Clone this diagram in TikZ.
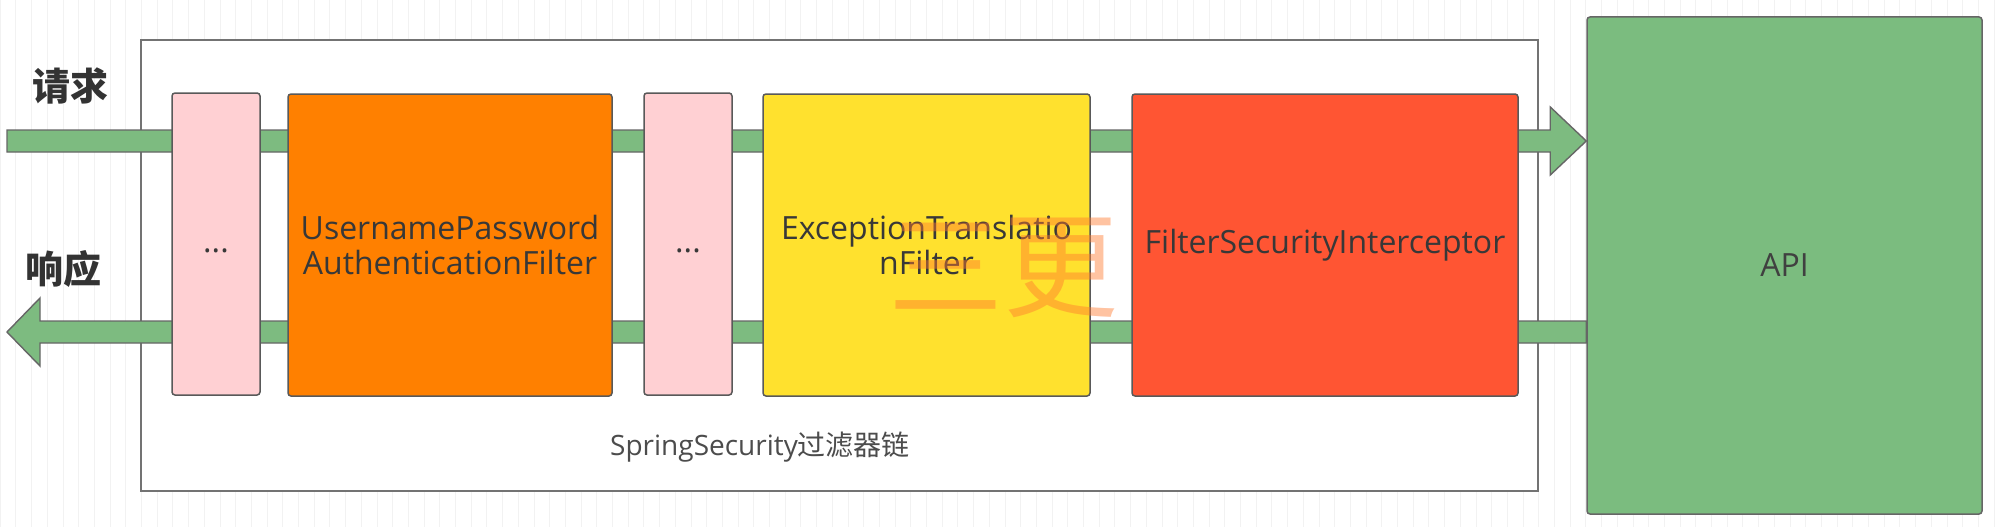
\documentclass[tikz,border=0pt]{standalone}
\usepackage{fontspec}
\setmainfont{Open Sans}
\newfontfamily\cjk{Noto Sans CJK SC}
\usetikzlibrary{calc}

\definecolor{bandgreen}{HTML}{7DBB80}
\definecolor{apigreen}{HTML}{7BBC7F}
\definecolor{pinkfill}{HTML}{FFD0D3}
\definecolor{orangefill}{HTML}{FF8000}
\definecolor{yellowfill}{HTML}{FFE12E}
\definecolor{redfill}{HTML}{FF5533}
\definecolor{markcolor}{HTML}{FF7A30}

\begin{document}
\begin{tikzpicture}[x=1pt, y=-1pt,
    gridline/.style={black!5, line width=0.6pt},
    filter/.style={draw=black!65, line width=1.5pt, rounded corners=3pt,
        minimum height=302pt, inner sep=0pt, align=center, text=black!78,
        font=\fontsize{32}{35}\selectfont},
    band/.style={draw=black!60, line width=1.4pt, fill=bandgreen, line join=miter}]
			%%%%% START %%%%%
			
			\useasboundingbox (0, 0) rectangle (1999, 527);
			\fill[white] (0, 0) rectangle (1999, 527);
			\draw[gridline] (0, 0) grid[step=15.7] (1999, 527);
			
			\node[draw=black!55, line width=1.6pt, fill=white, minimum width=1397pt, minimum height=451pt] (chain) at (839.5, 265.5) {};
			\node[text=black!70, font=\fontsize{28}{30}\selectfont] (chainlabel) at (760, 447) {SpringSecurity{\cjk 过滤器链}};
			
			\node[draw=black!60, line width=1.5pt, rounded corners=3pt, fill=apigreen, minimum width=395pt, minimum height=497pt, text=black!75, font=\fontsize{32}{35}\selectfont] (api) at (1784.5, 265.5) {API};
			
			\coordinate (reqin) at (7, 141);
			\coordinate (respout) at (7, 332);
			
			\draw[band] ($(reqin)+(0,-11)$) -- ($(api.west |- reqin)+(-36,-11)$) -- ++(0,-23) -- (api.west |- reqin) -- ($(api.west |- reqin)+(-36,34)$) -- ++(0,-23) -- ($(reqin)+(0,11)$) -- cycle;
			\draw[band] ($(api.west |- respout)+(0,-11)$) -- ($(respout)+(33,-11)$) -- ++(0,-23) -- (respout) -- ($(respout)+(33,34)$) -- ++(0,-23) -- ($(api.west |- respout)+(0,11)$) -- cycle;
			
			\node[filter, fill=pinkfill, minimum width=88pt] (dotsa) at (216, 244) {\smash{\raisebox{-8pt}{...}}};
			\node[filter, fill=orangefill, minimum width=324pt] (upaf) at (450, 245) {UsernamePassword\\AuthenticationFilter};
			\node[filter, fill=pinkfill, minimum width=88pt] (dotsb) at (688, 244) {\smash{\raisebox{-8pt}{...}}};
			\node[filter, fill=yellowfill, minimum width=327pt] (etf) at (926.5, 245) {ExceptionTranslatio\\nFilter};
			\node[filter, fill=redfill, minimum width=386pt] (fsi) at (1325, 245) {FilterSecurityInterceptor};
			
			\node[text=black!80, font=\cjk\bfseries\fontsize{38}{40}\selectfont] (reqlabel) at (70, 86) {请求};
			\node[text=black!80, font=\cjk\bfseries\fontsize{38}{40}\selectfont] (resplabel) at (63, 269) {响应};
			
			\node[text=markcolor, opacity=0.45, font=\cjk\fontsize{115}{120}\selectfont] (mark) at (1003, 268) {三更};
			
			%%%%% END %%%%%
\end{tikzpicture}
\end{document}
